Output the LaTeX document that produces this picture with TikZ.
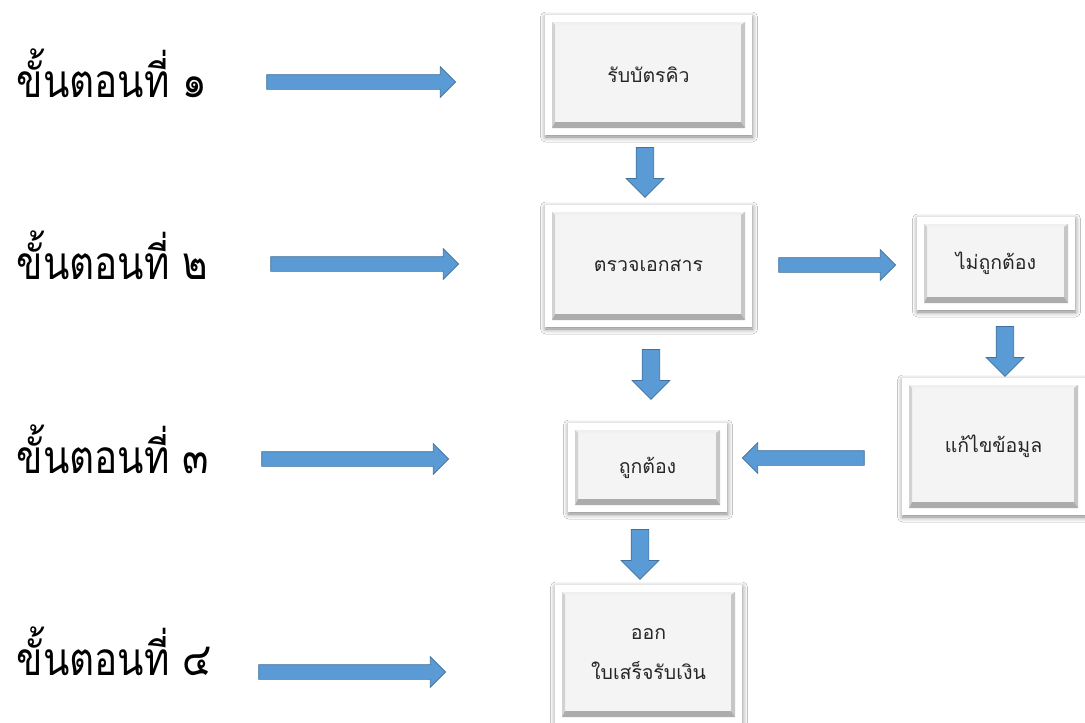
\documentclass[tikz,border=0pt]{standalone}
\usepackage{fontspec}
\newfontfamily\thaifont[Script=Thai]{Loma}
\newfontfamily\thaistep[Script=Thai, FakeStretch=0.84]{Loma}
\usetikzlibrary{shapes,arrows,positioning,calc,shadows.blur}
\definecolor{arrblue}{HTML}{5B9BD5}
\definecolor{arredge}{HTML}{41719C}
\definecolor{facegray}{HTML}{F4F4F4}
\tikzset{
  card/.style={rectangle, fill=white, draw=none,
    blur shadow={shadow xshift=0.5pt, shadow yshift=-2pt, shadow blur radius=5pt, shadow opacity=50},
    font=\thaifont\fontsize{19.5}{40}\selectfont, text=black!85, align=center,
    path picture={
      \coordinate (pa) at ([shift={(7pt,-7pt)}]path picture bounding box.north west);
      \coordinate (pc) at ([shift={(-7pt,7pt)}]path picture bounding box.south east);
      \coordinate (pb) at (pa -| pc);
      \coordinate (pd) at (pa |- pc);
      \fill[facegray] (pa) rectangle (pc);
      \fill[gray!12] (pa) -- (pb) -- ([shift={(-4pt,-3pt)}]pb) -- ([shift={(3pt,-3pt)}]pa) -- cycle;
      \fill[gray!35] (pa) -- (pd) -- ([shift={(3pt,6pt)}]pd) -- ([shift={(3pt,-3pt)}]pa) -- cycle;
      \fill[gray!45] (pb) -- (pc) -- ([shift={(-4pt,6pt)}]pc) -- ([shift={(-4pt,-3pt)}]pb) -- cycle;
      \fill[gray!65] (pd) -- (pc) -- ([shift={(-4pt,6pt)}]pc) -- ([shift={(3pt,6pt)}]pd) -- cycle;
    }},
  steplabel/.style={anchor=base west, font=\thaistep\fontsize{46}{50}\selectfont},
  barrow/.style={single arrow, draw=arredge, fill=arrblue, line width=0.7pt,
    minimum width=0pt, inner sep=7pt, single arrow head extend=8pt},
  bigbarrow/.style={barrow, inner sep=8.5pt, single arrow head extend=10pt},
}

\begin{document}
\begin{tikzpicture}[x=1pt,y=-1pt]
  \fill[white] (0,0) rectangle (1085,723);
  \useasboundingbox (0,0) rectangle (1085,723);

  \node[steplabel] (st1) at (13,97) {ขั้นตอนที่ ๑};
  \node[steplabel] (st2) at (13,279) {ขั้นตอนที่ ๒};
  \node[steplabel] (st3) at (13,473) {ขั้นตอนที่ ๓};
  \node[steplabel] (st4) at (13,675) {ขั้นตอนที่ ๔};

  \node[card, minimum width=207pt, minimum height=120pt] (recv) at (648.5,75) {รับบัตรคิว};
  \node[card, minimum width=207pt, minimum height=122pt] (check) at (648.5,266) {ตรวจเอกสาร};
  \node[card, minimum width=158pt, minimum height=93pt] (wrong) at (996,263.5) {ไม่ถูกต้อง};
  \node[card, minimum width=183pt, minimum height=137pt] (fix) at (993.5,446.5) {แก้ไขข้อมูล};
  \node[card, minimum width=159pt, minimum height=89pt] (right) at (647.5,467.5) {ถูกต้อง};
  \node[card, minimum width=187pt, minimum height=139pt] (issue) at (648.5,654.5) {ออก\\ใบเสร็จรับเงิน};

  \node[barrow, minimum height=189pt] (a1) at (357.5,82) {};
  \node[barrow, minimum height=188pt] (a2) at (361,264) {};
  \node[barrow, minimum height=187pt] (a3) at (351.5,459) {};
  \node[barrow, minimum height=187pt] (a4) at (348.5,672) {};

  \node[bigbarrow, shape border rotate=270, minimum height=50pt] (d12) at (645,168) {};
  \node[bigbarrow, shape border rotate=270, minimum height=50pt] (d25) at (651,370) {};
  \node[bigbarrow, shape border rotate=270, minimum height=50pt] (d56) at (640,550) {};
  \node[bigbarrow, shape border rotate=270, minimum height=50pt] (d34) at (1005,347) {};
  \node[barrow, minimum height=117pt] (r23) at (833.5,265) {};
  \node[barrow, shape border rotate=180, minimum height=122pt] (l45) at (807,458) {};
\end{tikzpicture}
\end{document}
